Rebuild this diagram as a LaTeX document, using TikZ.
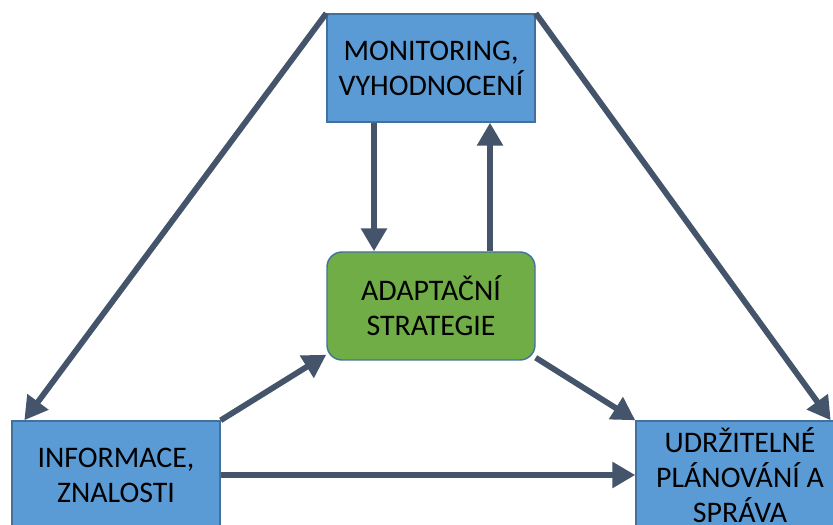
\documentclass[tikz,border=0pt]{standalone}
\usepackage{fontspec}
\setmainfont{Carlito}
\usetikzlibrary{arrows.meta}

\definecolor{boxblue}{HTML}{5B9BD5}
\definecolor{boxedge}{HTML}{41719C}
\definecolor{boxgreen}{HTML}{70AD47}
\definecolor{arrowgray}{HTML}{44546A}

\begin{document}
\begin{tikzpicture}[
    box/.style={draw=boxedge, line width=0.8pt, fill=boxblue, minimum width=4.16cm,
      minimum height=2.16cm, align=center, inner sep=0pt,
      font=\fontsize{17}{19.9}\selectfont},
    greenbox/.style={box, fill=boxgreen, rounded corners=0.3cm},
    flow/.style={draw=arrowgray, line width=3.3pt,
      -{Triangle[length=0.46cm,width=0.5cm]}}
  ]
    \useasboundingbox (0,0) rectangle (16.66,10.48);

    \node[box] (mon) at (8.62, 9.12) {MONITORING,\\VYHODNOCENÍ};
    \node[greenbox] (ada) at (8.62, 4.36) {ADAPTAČNÍ\\STRATEGIE};
    \node[box] (info) at (2.32, 0.98) {INFORMACE,\\ZNALOSTI};
    \node[box] (udr) at (14.8, 0.98) {UDRŽITELNÉ\\PLÁNOVÁNÍ A\\SPRÁVA};

    \draw[flow] (mon.north west) -- ([xshift=0.26cm]info.north west);
    \draw[flow] (mon.north east) -- ([xshift=-0.28cm]udr.north east);

    \draw[flow] ([xshift=-1.14cm]mon.south) -- ([xshift=-1.14cm]ada.north);
    \draw[flow] ([xshift=1.18cm]ada.north) -- ([xshift=1.18cm]mon.south);

    \draw[flow] (info.north east) -- ([yshift=0.12cm]ada.south west);
    \draw[flow] ([yshift=0.06cm]ada.south east) -- (udr.north west);
    \draw[flow] (info.east) -- (udr.west);
\end{tikzpicture}
\end{document}
